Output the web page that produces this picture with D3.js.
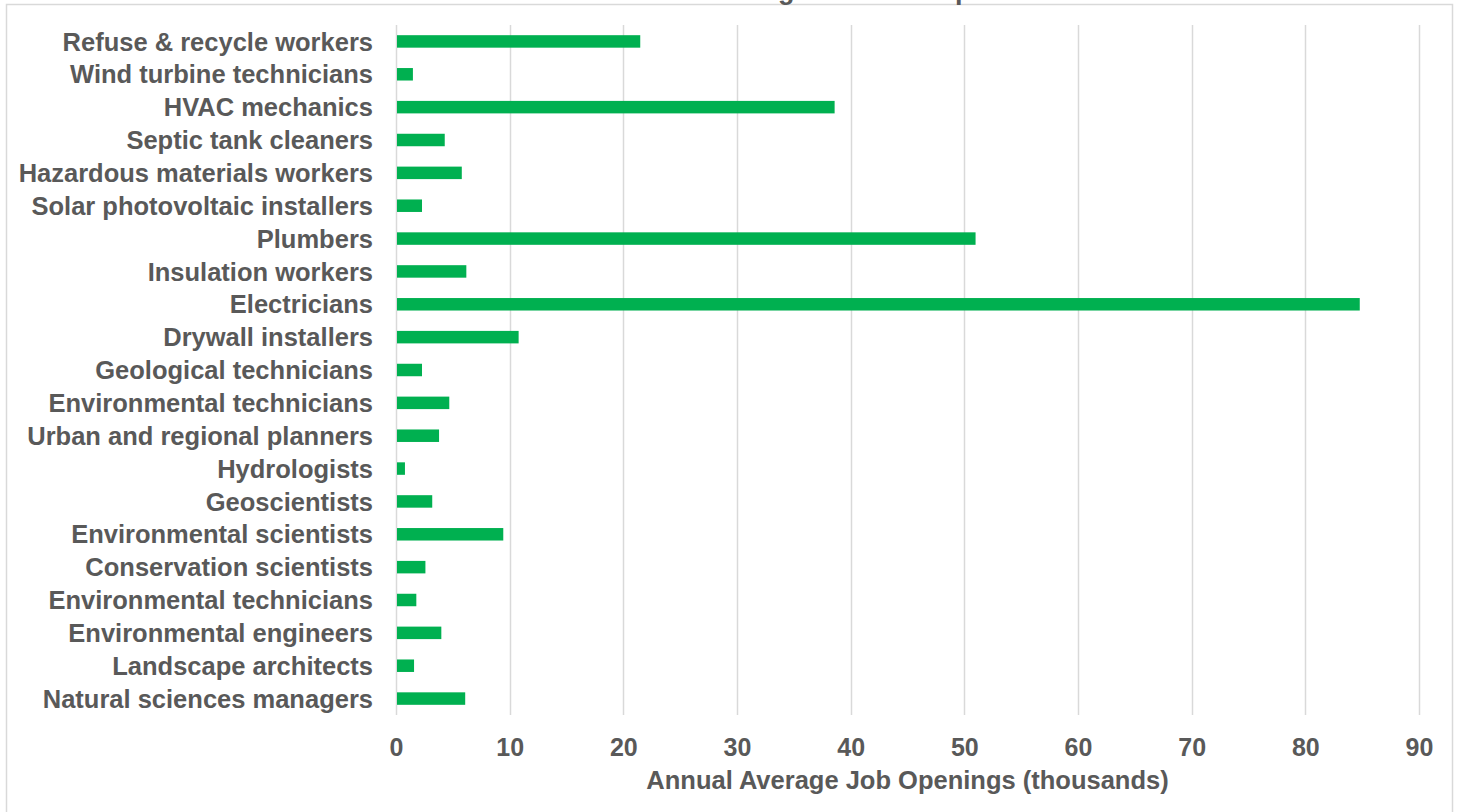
<!DOCTYPE html>
<html>
<head>
<meta charset="utf-8">
<script src="https://cdnjs.cloudflare.com/ajax/libs/d3/7.8.5/d3.min.js"></script>
<style>
  body { margin: 0; background: #fff; }
  #chart { width: 1459px; height: 812px; overflow: hidden; }
  text { font-family: "Liberation Sans", Arial, sans-serif; font-weight: bold; fill: #595959; }
</style>
</head>
<body>
<div id="chart"></div>
<script>
// chart data, top to bottom as drawn
var occupations = [
  "Refuse & recycle workers", "Wind turbine technicians", "HVAC mechanics",
  "Septic tank cleaners", "Hazardous materials workers", "Solar photovoltaic installers",
  "Plumbers", "Insulation workers", "Electricians", "Drywall installers",
  "Geological technicians", "Environmental technicians", "Urban and regional planners",
  "Hydrologists", "Geoscientists", "Environmental scientists", "Conservation scientists",
  "Environmental technicians", "Environmental engineers", "Landscape architects",
  "Natural sciences managers"
];
var openings = [21.4, 1.4, 38.5, 4.2, 5.7, 2.2, 50.9, 6.1, 84.7, 10.7,
                2.2, 4.6, 3.7, 0.7, 3.1, 9.35, 2.5, 1.7, 3.9, 1.5, 6.0];
var xTicks = [0, 10, 20, 30, 40, 50, 60, 70, 80, 90];
var chartTitle = "Growing Green Occupations";
var xTitle = "Annual Average Job Openings (thousands)";

var margin = {top: 25, right: 40, bottom: 97, left: 396};
var W = 1459, H = 812;
var width = W - margin.left - margin.right;
var height = H - margin.top - margin.bottom;

var svg = d3.select("#chart").append("svg")
    .attr("width", W)
    .attr("height", H);

// outer chart frame
svg.append("rect")
    .attr("x", 6.5).attr("y", 4.5)
    .attr("width", 1446).attr("height", 820)
    .attr("fill", "none")
    .attr("stroke", "#d9d9d9")
    .attr("stroke-width", 1.5);

// title sits mostly above the visible area
svg.append("text")
    .attr("x", 868)
    .attr("y", -1)
    .attr("text-anchor", "middle")
    .style("font-size", "27px")
    .text(chartTitle);

var g = svg.append("g")
    .attr("transform", "translate(" + margin.left + "," + margin.top + ")");

var x = d3.scaleLinear()
    .domain([0, 90])
    .range([0, width - 0]);
x.range([0, 1023]);

var y = d3.scaleBand()
    .domain(d3.range(occupations.length))
    .range([0, height])
    .paddingInner(0.62)
    .paddingOuter(0.31);

// gridlines
g.selectAll(".grid")
    .data(xTicks)
  .enter().append("line")
    .attr("class", "grid")
    .attr("x1", function(d) { return Math.round(x(d)) + 0.5; })
    .attr("x2", function(d) { return Math.round(x(d)) + 0.5; })
    .attr("y1", 0)
    .attr("y2", height)
    .attr("stroke", "#d9d9d9")
    .attr("stroke-width", 1.5);

// bars
g.selectAll(".bar")
    .data(openings)
  .enter().append("rect")
    .attr("class", "bar")
    .attr("x", x(0) + 1)
    .attr("y", function(d, i) { return y(i); })
    .attr("width", function(d) { return x(d) - x(0); })
    .attr("height", y.bandwidth())
    .attr("fill", "#00b050");

// category labels
g.selectAll(".cat")
    .data(occupations)
  .enter().append("text")
    .attr("class", "cat")
    .attr("x", -23)
    .attr("y", function(d, i) { return y(i) + y.bandwidth() / 2; })
    .attr("dy", "0.36em")
    .attr("text-anchor", "end")
    .style("font-size", "25.5px")
    .text(function(d) { return d; });

// x axis labels
var axisX = d3.axisBottom(x).tickValues(xTicks).tickSize(0).tickPadding(0);
var ax = g.append("g")
    .attr("class", "axis axis--x")
    .attr("transform", "translate(0," + height + ")")
    .call(axisX);
ax.select(".domain").remove();
ax.selectAll("text")
    .attr("y", 41)
    .attr("dy", 0)
    .style("font-size", "25px")
    .style("font-family", null)
    .attr("fill", null);
ax.attr("font-family", null).attr("font-size", null);

g.append("text")
    .attr("class", "axis-title")
    .attr("x", x(45))
    .attr("y", height + 74)
    .attr("text-anchor", "middle")
    .style("font-size", "25.5px")
    .text(xTitle);
</script>
</body>
</html>
